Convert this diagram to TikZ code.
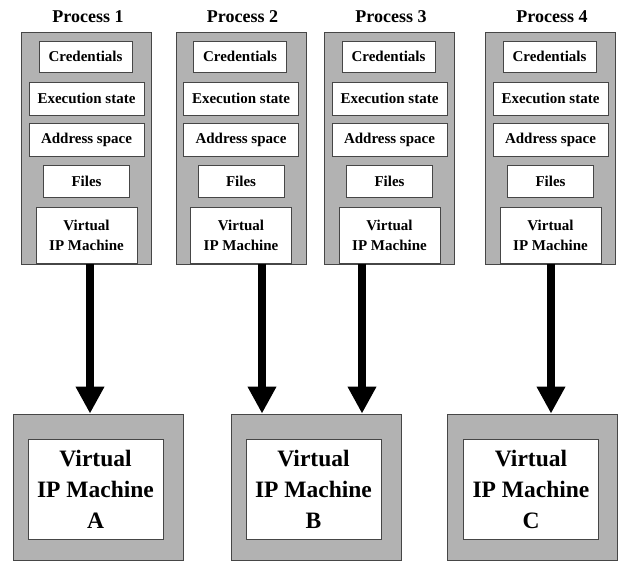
\documentclass[tikz,border=0pt]{standalone}
\usepackage{fontspec}
\setmainfont{Liberation Serif}
\usetikzlibrary{arrows.meta}
\definecolor{boxgray}{RGB}{178,178,178}
\definecolor{edgegray}{RGB}{70,70,70}
\tikzset{
  proc/.style={draw=edgegray, line width=0.8pt, fill=boxgray, minimum width=130pt, minimum height=232pt, inner sep=0pt},
  item/.style={draw=edgegray, line width=0.8pt, fill=white, inner sep=0pt, align=center,
    font=\fontsize{15}{20}\selectfont\bfseries},
  title/.style={font=\fontsize{18}{20}\selectfont\bfseries, inner sep=0pt},
  vmouter/.style={draw=edgegray, line width=0.8pt, fill=boxgray, minimum width=170pt, minimum height=146pt, inner sep=0pt},
  vminner/.style={draw=edgegray, line width=0.8pt, fill=white, minimum width=135pt, minimum height=100pt, inner sep=0pt, align=center,
    font=\fontsize{23.5}{31}\selectfont\bfseries},
  bigarrow/.style={line width=8pt, -{Triangle[width=27pt,length=27pt]}}
}
\newcommand{\procbox}[2]{%
  \node[title] (t#1) at (#2+1.5,17) {Process #1};
  \node[proc] (p#1) at (#2,148) {};
  \node[item, minimum width=93pt, minimum height=31pt] (c#1) at (#2-1,56.5) {Credentials};
  \node[item, minimum width=115pt, minimum height=33pt] (e#1) at (#2,98.5) {Execution state};
  \node[item, minimum width=115pt, minimum height=33pt] (a#1) at (#2,139.5) {Address space};
  \node[item, minimum width=86pt, minimum height=32pt] (f#1) at (#2,181) {Files};
  \node[item, minimum width=101pt, minimum height=56pt] (v#1) at (#2,235) {Virtual\\IP Machine};
}
\begin{document}
\begin{tikzpicture}[x=1pt,y=-1pt]
\useasboundingbox (0,0) rectangle (618,561);
\procbox{1}{86.5}
\procbox{2}{241}
\procbox{3}{389.5}
\procbox{4}{550.5}
% virtual machines
\node[vmouter] (mA) at (98,487) {};
\node[vminner] (iA) at (95.5,489) {Virtual\\IP Machine\\A};
\node[vmouter] (mB) at (316,487) {};
\node[vminner] (iB) at (313.5,489) {Virtual\\IP Machine\\B};
\node[vmouter] (mC) at (532.5,487) {};
\node[vminner] (iC) at (531,489) {Virtual\\IP Machine\\C};
% arrow start points
\coordinate (s1) at (90,264);
\coordinate (s2) at (262,264);
\coordinate (s3) at (362,264);
\coordinate (s4) at (551,264);
\draw[bigarrow] (s1) -- (s1 |- mA.north);
\draw[bigarrow] (s2) -- (s2 |- mB.north);
\draw[bigarrow] (s3) -- (s3 |- mB.north);
\draw[bigarrow] (s4) -- (s4 |- mC.north);
\end{tikzpicture}
\end{document}
